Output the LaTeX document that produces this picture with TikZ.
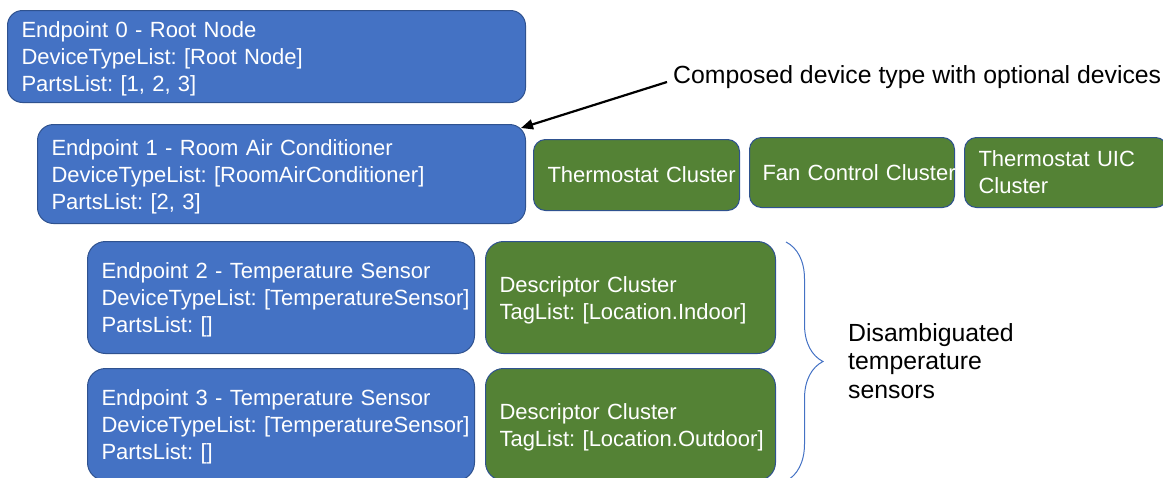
\documentclass[tikz,border=0pt]{standalone}
\usepackage{fontspec}
\setmainfont{Liberation Sans}
\usetikzlibrary{positioning, arrows.meta, decorations.pathreplacing}
\definecolor{epblue}{HTML}{4472C4}
\definecolor{epline}{HTML}{2F528F}
\definecolor{clgreen}{HTML}{548235}
\frenchspacing
\hyphenpenalty=10000
\exhyphenpenalty=10000

\begin{document}
\begin{tikzpicture}[
  x=1pt, y=-1pt,
  every node/.style={
    font=\fontsize{22pt}{27pt}\selectfont,
    inner xsep=14pt,
    inner ysep=0pt,
    align=left,
    anchor=north west,
  },
  endpoint/.style={fill=epblue, draw=epline, line width=1pt, text=white,
    execute at begin node={\rule{0pt}{21.5pt}}},
  cluster/.style={fill=clgreen, draw=epline, line width=1pt, text=white},
  remark/.style={font=\fontsize{24.8pt}{28.5pt}\selectfont, inner sep=0pt, anchor=west},
  arrowline/.style={draw=black, line width=2.2pt, -{Triangle[length=12pt,width=10pt]}},
  sbrace/.style={draw=epblue, line width=1pt, decorate, decoration={brace, amplitude=37pt}},
]

\useasboundingbox (0,0) rectangle (1163,477);

\node[endpoint, rounded corners=15pt, text width=490pt, minimum height=92pt] (ep0) at (7,10) {
  Endpoint 0 - Root Node\\
  DeviceTypeList: [Root Node]\\
  PartsList: [1, 2, 3]
};
\node[endpoint, rounded corners=16pt, text width=460pt, minimum height=99pt] (ep1) at (37,124) {
  Endpoint 1 - Room Air Conditioner\\
  DeviceTypeList: [RoomAirConditioner]\\
  PartsList: [2, 3]
};
\node[endpoint, rounded corners=18pt, text width=359pt, minimum height=112pt] (ep2) at (87,241) {
  Endpoint 2 - Temperature Sensor\\
  DeviceTypeList:~[TemperatureSensor]\\
  PartsList: []
};
\node[endpoint, rounded corners=18pt, text width=359pt, minimum height=112pt] (ep3) at (87,368) {
  Endpoint 3 - Temperature Sensor\\
  DeviceTypeList:~[TemperatureSensor]\\
  PartsList: []
};

\node[cluster, rounded corners=12pt, text width=178pt, minimum height=71pt] (th) at (533,139) {Thermostat~Cluster};
\node[cluster, rounded corners=12pt, inner xsep=13pt, text width=179pt, minimum height=70pt] (fan) at (749,137) {Fan~Control~Cluster};
\node[cluster, rounded corners=12pt, text width=175pt, minimum height=70pt] (uic) at (964,137) {Thermostat UIC\\Cluster};

\node[cluster, rounded corners=18pt, text width=262pt, minimum height=112pt,
  execute at begin node={\rule{0pt}{21.5pt}}] (desc2) at (485,241) {
  Descriptor Cluster\\
  TagList:~[Location.Indoor]
};
\node[cluster, rounded corners=18pt, text width=262pt, minimum height=112pt,
  execute at begin node={\rule{0pt}{21.5pt}}] (desc3) at (485,368) {
  Descriptor Cluster\\
  TagList:~[Location.Outdoor]
};

\node[remark] (note) at (673,77) {Composed device type with optional devices};
\node[remark] (sensors) at (848,361) {Disambiguated\\temperature\\sensors};

\draw[arrowline] ([xshift=-6pt,yshift=-5pt]note.west) -- ([xshift=-5pt,yshift=-4pt]ep1.north east);
\draw[sbrace] ([xshift=10pt,yshift=-1pt]desc2.north east) -- ([xshift=10pt]desc3.south east);

\end{tikzpicture}
\end{document}
